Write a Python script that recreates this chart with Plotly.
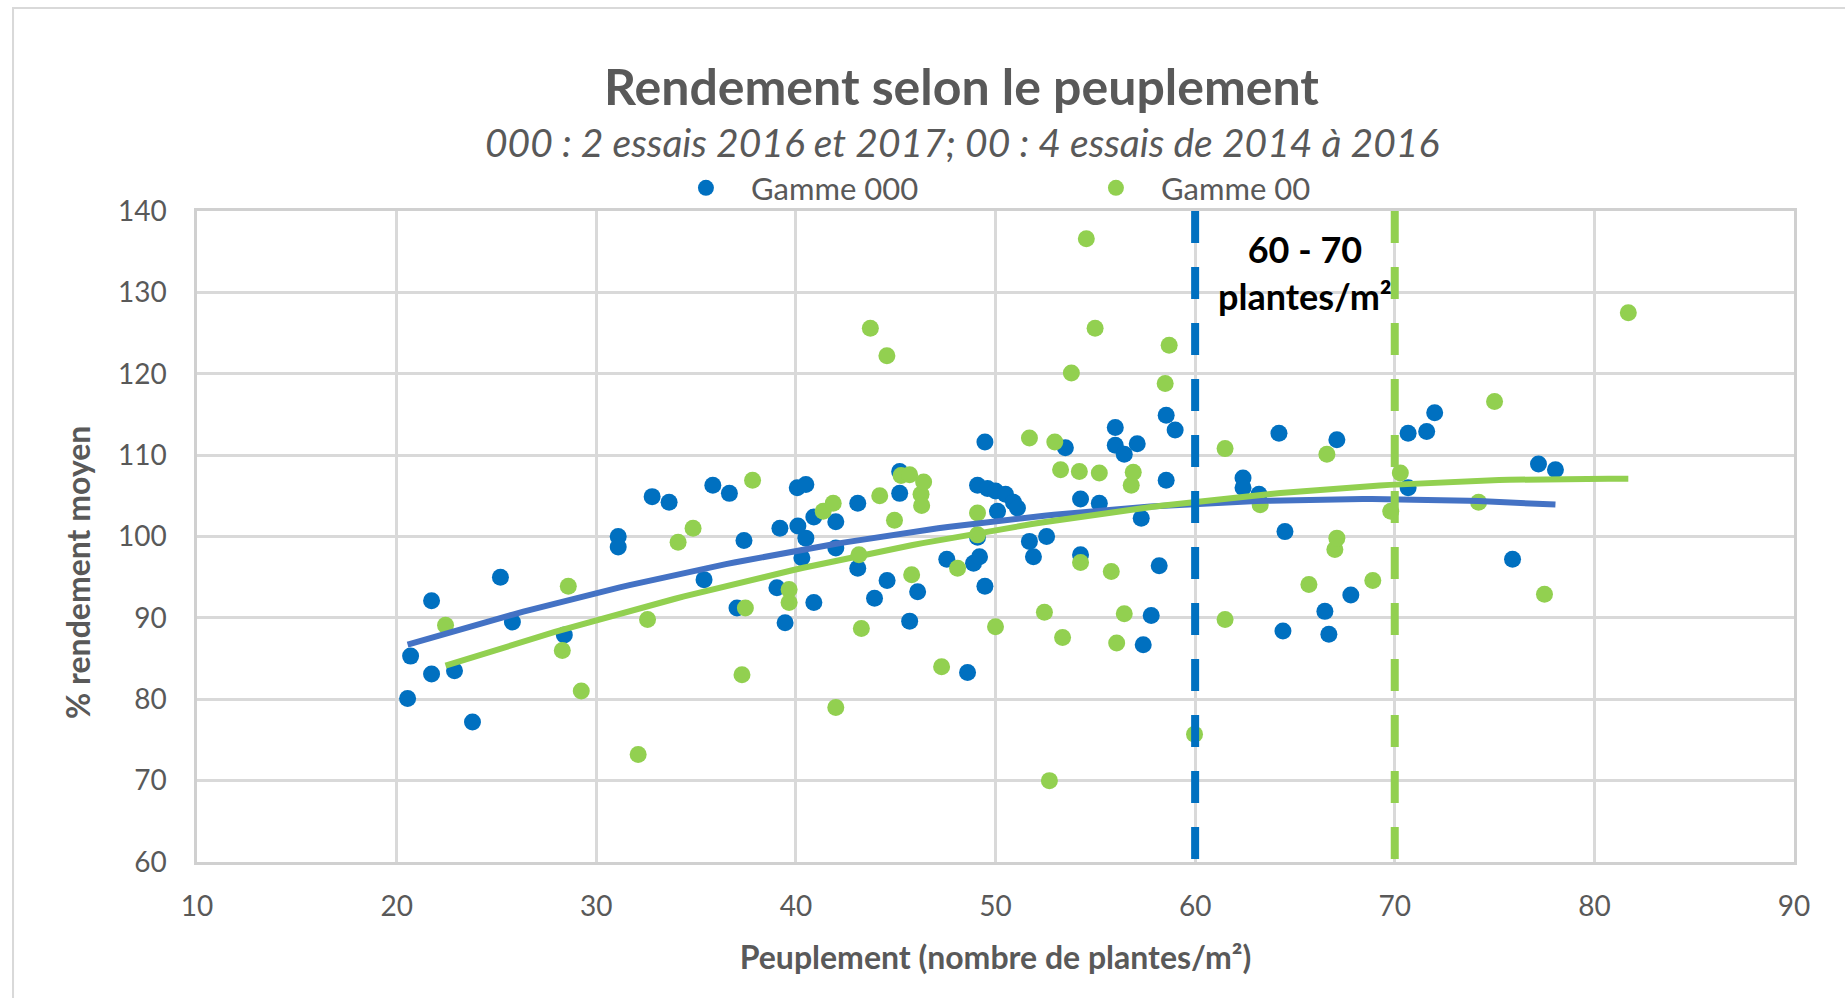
import numpy as np
import plotly.graph_objects as go

# ---- data: Gamme 000 (blue) ----
g000_x = [20.55, 20.7, 21.75, 21.75, 22.9, 23.8, 25.2, 25.8, 28.4, 31.1, 31.1, 32.8, 33.65,
          35.4, 35.84, 36.67, 37.05, 37.4, 39.05, 39.2, 39.46, 40.07, 40.1, 40.3, 40.5, 40.5,
          40.9, 40.9, 42.0, 42.0, 43.1, 43.1, 43.94, 44.57, 45.2, 45.2, 45.7, 46.1, 47.56,
          48.6, 49.1, 49.1, 48.9, 49.2, 49.47, 49.47, 49.6, 50.0, 50.1, 50.5, 50.9, 51.1,
          51.7, 51.9, 52.56, 53.5, 54.26, 54.26, 55.2, 56.0, 56.0, 56.45, 57.1, 57.3, 57.4,
          57.8, 58.2, 58.55, 58.55, 59.0, 62.4, 62.4, 63.2, 64.2, 64.4, 64.5, 66.5, 66.7,
          67.1, 67.8, 70.67, 70.67, 71.6, 72.0, 75.9, 77.2, 78.05]
g000_y = [80.1, 85.3, 92.1, 83.1, 83.5, 77.2, 95.0, 89.5, 87.9, 100.0, 98.7, 104.9, 104.2,
          94.7, 106.3, 105.3, 91.2, 99.5, 93.7, 101.0, 89.4, 106.0, 101.3, 97.4, 106.4, 99.8,
          102.4, 91.9, 101.8, 98.6, 104.1, 96.1, 92.4, 94.6, 108.0, 105.3, 89.6, 93.2, 97.2,
          83.3, 106.3, 99.9, 96.7, 97.5, 93.9, 111.6, 105.9, 105.6, 103.1, 105.2, 104.2, 103.5,
          99.4, 97.5, 100.0, 110.9, 104.6, 97.75, 104.1, 113.4, 111.2, 110.1, 111.4, 102.25, 86.7,
          90.3, 96.4, 114.9, 106.9, 113.1, 107.2, 106.0, 105.2, 112.7, 88.4, 100.6, 90.8, 88.0,
          111.9, 92.8, 112.7, 106.0, 112.9, 115.2, 97.2, 108.9, 108.2]

# ---- data: Gamme 00 (green) ----
g00_x = [22.45, 28.3, 28.6, 29.25, 32.1, 32.57, 34.1, 34.85, 37.3, 37.47, 37.83, 39.66, 39.66,
         41.37, 41.87, 42.0, 43.16, 43.28, 43.73, 44.2, 44.56, 44.94, 45.27, 45.7, 45.8, 46.27,
         46.3, 46.4, 47.3, 48.1, 49.1, 49.1, 50.0, 51.7, 52.45, 52.7, 52.97, 53.26, 53.36, 53.8,
         54.2, 54.26, 54.55, 54.99, 55.2, 55.8, 56.07, 56.45, 56.8, 56.9, 58.5, 58.7, 59.97,
         61.5, 61.5, 63.26, 65.7, 66.6, 67.0, 67.1, 68.9, 69.8, 70.28, 74.2, 75.0, 77.5, 81.7]
g00_y = [89.1, 86.0, 93.9, 81.0, 73.2, 89.8, 99.3, 101.0, 83.0, 91.2, 106.9, 93.5, 91.9,
         103.1, 104.1, 79.0, 97.75, 88.7, 125.6, 105.0, 122.2, 102.0, 107.5, 107.6, 95.3, 105.2,
         103.8, 106.7, 84.0, 96.1, 102.9, 100.2, 88.9, 112.1, 90.7, 70.0, 111.6, 108.2, 87.6, 120.1,
         108.0, 96.8, 136.6, 125.6, 107.8, 95.7, 86.9, 90.5, 106.3, 107.9, 118.8, 123.5, 75.7,
         110.8, 89.8, 103.9, 94.1, 110.1, 98.4, 99.8, 94.6, 103.1, 107.8, 104.2, 116.6, 92.9, 127.5]

# polynomial (order 2) trendline coefficients,
# y = c0 + c1*(x - 50) + c2*(x - 50)^2
trend_g000 = [101.9, 0.2884, -0.007718]
trend_g00 = [100.8, 0.4163, -0.006865]
trend_center = 50

x_ticks = [10, 20, 30, 40, 50, 60, 70, 80, 90]
y_ticks = [60, 70, 80, 90, 100, 110, 120, 130, 140]
ref_low = 60
ref_high = 70

BLUE = "#0070C0"
GREEN = "#92D050"
TREND_BLUE = "#4472C4"
GREY = "#595959"
FONT = "Lato"


def trend_line(xs, coefs):
    xt = np.linspace(min(xs), max(xs), 120)
    u = xt - trend_center
    return xt, coefs[0] + coefs[1] * u + coefs[2] * u ** 2


fig = go.Figure()
fig.add_trace(go.Scatter(x=g000_x, y=g000_y, mode="markers", name="Gamme 000",
                         marker=dict(color=BLUE, size=17, line=dict(width=0))))
fig.add_trace(go.Scatter(x=g00_x, y=g00_y, mode="markers", name="Gamme 00",
                         marker=dict(color=GREEN, size=17, line=dict(width=0))))
bx, by = trend_line(g000_x, trend_g000)
gx, gy = trend_line(g00_x, trend_g00)
fig.add_trace(go.Scatter(x=bx, y=by, mode="lines", showlegend=False, hoverinfo="skip",
                         line=dict(color=TREND_BLUE, width=6)))
fig.add_trace(go.Scatter(x=gx, y=gy, mode="lines", showlegend=False, hoverinfo="skip",
                         line=dict(color=GREEN, width=6)))

for xv, col in [(ref_low, BLUE), (ref_high, GREEN)]:
    fig.add_shape(type="line", xref="x", yref="paper", x0=xv, x1=xv, y0=1, y1=0,
                  line=dict(color=col, width=8, dash="32px,24px"), layer="above")

fig.add_annotation(x=(ref_low + ref_high) / 2 + 0.5, y=132.5, xref="x", yref="y",
                   text="<b>60 - 70<br>plantes/m²</b>", showarrow=False,
                   font=dict(family=FONT, size=36, color="black"), align="center",
                   yanchor="middle")

# titles
fig.add_annotation(x=0.479, y=1.192, xref="paper", yref="paper", showarrow=False,
                   xanchor="center", yanchor="middle",
                   text="<b>Rendement selon le peuplement</b>",
                   font=dict(family=FONT, size=50, color=GREY))
fig.add_annotation(x=0.479, y=1.106, xref="paper", yref="paper", showarrow=False,
                   xanchor="center", yanchor="middle",
                   text="<i>000 : 2 essais 2016 et 2017; 00 : 4 essais de 2014 à 2016</i>",
                   font=dict(family=FONT, size=39, color=GREY))
# y axis title
fig.add_annotation(x=-0.0745, y=0.444, xref="paper", yref="paper", showarrow=False,
                   xanchor="center", yanchor="middle", textangle=-90,
                   text="<b>% rendement moyen</b>",
                   font=dict(family=FONT, size=32, color=GREY))

# outer chart border
fig.add_shape(type="rect", xref="paper", yref="paper", x0=-0.1152, x1=1.05, y0=-0.3, y1=1.3118,
              line=dict(color="#d9d9d9", width=2), fillcolor="rgba(0,0,0,0)", layer="below")

axis_common = dict(showgrid=True, gridcolor="#d9d9d9", gridwidth=2.5, zeroline=False,
                   showline=True, linecolor="#d0d0d0", linewidth=2.5, mirror=True,
                   ticks="", tickfont=dict(family=FONT, size=28, color=GREY))

fig.update_layout(
    width=1845, height=998,
    margin=dict(l=197, r=51, t=211, b=136),
    paper_bgcolor="white", plot_bgcolor="white",
    font=dict(family=FONT, color=GREY),
    showlegend=True,
    legend=dict(orientation="h", x=0.2905, y=1.035, xanchor="left", yanchor="middle",
                entrywidth=315, entrywidthmode="pixels", itemwidth=80,
                font=dict(family=FONT, size=31, color=GREY), bgcolor="rgba(0,0,0,0)"),
    xaxis=dict(range=[10, 90], tickvals=x_ticks, ticklabelstandoff=18,
               title=dict(text="<b>Peuplement (nombre de plantes/m²)</b>",
                          font=dict(family=FONT, size=32, color=GREY), standoff=26),
               **axis_common),
    yaxis=dict(range=[60, 140], tickvals=y_ticks, ticklabelstandoff=22,
               **axis_common),
)

fig.write_html("out.html", config={"displayModeBar": False},
               post_script="document.body.style.margin='0';document.body.style.overflow='hidden';")
